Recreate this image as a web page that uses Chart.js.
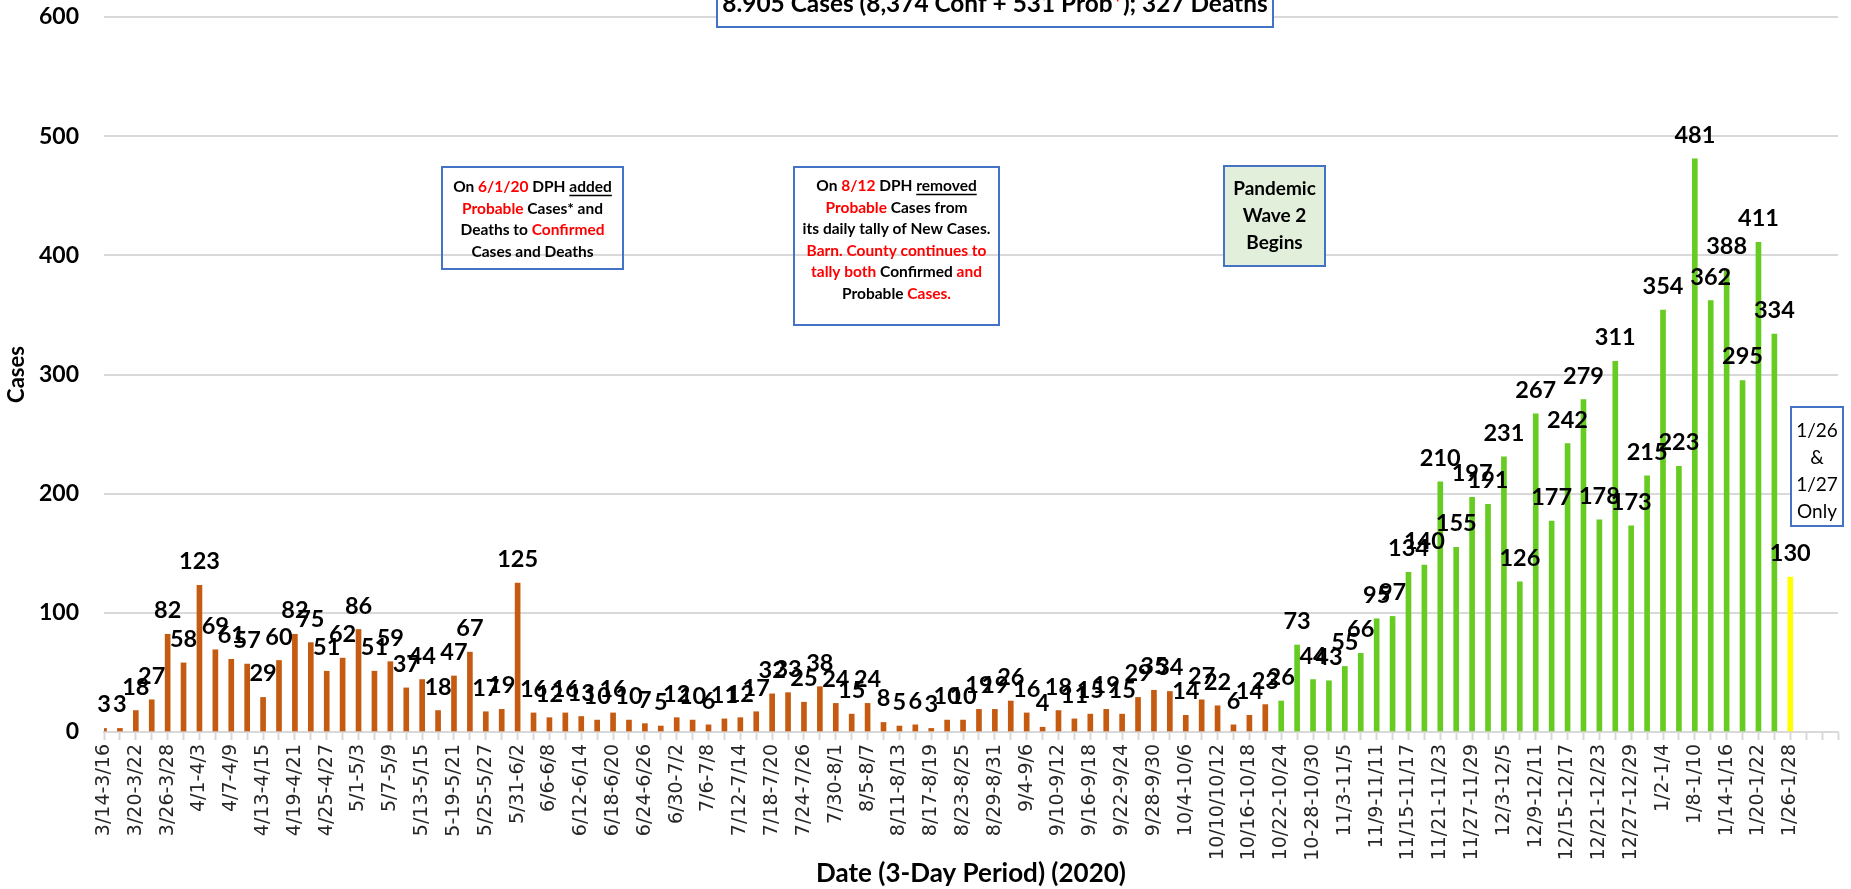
<!DOCTYPE html>
<html>
<head>
<meta charset="utf-8">
<script src="https://cdn.jsdelivr.net/npm/chart.js@4.4.1/dist/chart.umd.min.js"></script>
<style>
  html, body { margin: 0; padding: 0; background: #fff; }
  #wrap { width: 1851px; height: 889px; }
</style>
</head>
<body>
<div id="wrap"><canvas id="casesChart" width="1851" height="889"></canvas></div>
<script>
// tick labels, one for every second 3-day period
const tickLabels = [
  '3/14-3/16', '3/20-3/22', '3/26-3/28', '4/1-4/3', '4/7-4/9', '4/13-4/15', '4/19-4/21', '4/25-4/27',
  '5/1-5/3', '5/7-5/9', '5/13-5/15', '5-19-5/21', '5/25-5/27', '5/31-6/2', '6/6-6/8', '6/12-6/14',
  '6/18-6/20', '6/24-6/26', '6/30-7/2', '7/6-7/8', '7/12-7/14', '7/18-7/20', '7/24-7/26', '7/30-8/1',
  '8/5-8/7', '8/11-8/13', '8/17-8/19', '8/23-8/25', '8/29-8/31', '9/4-9/6', '9/10-9/12', '9/16-9/18',
  '9/22-9/24', '9/28-9/30', '10/4-10/6', '10/10/10/12', '10/16-10/18', '10/22-10/24', '10-28-10/30', '11/3-11/5',
  '11/9-11/11', '11/15-11/17', '11/21-11/23', '11/27-11/29', '12/3-12/5', '12/9-12/11', '12/15-12/17', '12/21-12/23',
  '12/27-12/29', '1/2-1/4', '1/8-1/10', '1/14-1/16', '1/20-1/22', '1/26-1/28'
];

// first wave (orange)
const wave1Cases = [
  3, 3, 18, 27, 82, 58, 123, 69, 61, 57, 29, 60, 82, 75, 51, 62, 86, 51, 59, 37,
  44, 18, 47, 67, 17, 19, 125, 16, 12, 16, 13, 10, 16, 10, 7, 5, 12, 10, 6, 11,
  12, 17, 32, 33, 25, 38, 24, 15, 24, 8, 5, 6, 3, 10, 10, 19, 19, 26, 16, 4,
  18, 11, 15, 19, 15, 29, 35, 34, 14, 27, 22, 6, 14, 23
];
// second wave (green)
const wave2Cases = [
  26, 73, 44, 43, 55, 66, 95, 97, 134, 140, 210, 155, 197, 191, 231, 126,
  267, 177, 242, 279, 178, 311, 173, 215, 354, 223, 481, 362, 388, 295, 411, 334
];
// 1/26 & 1/27 only (yellow)
const partialCases = [130];

const yTicks = [0, 100, 200, 300, 400, 500, 600];
const emptySlots = 3;

const values = [...wave1Cases, ...wave2Cases, ...partialCases];
const categories = [];
for (let i = 0; i < values.length + emptySlots; i++) {
  categories.push(i % 2 === 0 && i / 2 < tickLabels.length ? tickLabels[i / 2] : '');
}
const barColors = values.map((v, i) =>
  i < wave1Cases.length ? '#C55A11'
    : i < wave1Cases.length + wave2Cases.length ? '#66CC22'
    : '#FFFF00');

const BLUE = '#4472C4';
const RED = '#FF0000';

function richLine(ctx, segs, cx, y, size) {
  const widths = segs.map(s => ctx.measureText(s[0]).width);
  const total = widths.reduce((a, b) => a + b, 0);
  let x = cx - total / 2;
  segs.forEach((s, k) => {
    ctx.fillStyle = s[1] || '#000';
    ctx.fillText(s[0], x, y);
    if (s[2]) ctx.fillRect(x, y + size * 0.5, widths[k], 1.5);
    x += widths[k];
  });
}

const notes = [
  {
    box: [442, 167, 623, 269], fill: null, font: 'bold 15.5px Lato', size: 15.5, top: 187, step: 21.7,
    lines: [
      [['On '], ['6/1/20', RED], [' DPH '], ['added', null, true]],
      [['Probable', RED], [' Cases* and']],
      [['Deaths to '], ['Confirmed', RED]],
      [['Cases and Deaths']]
    ]
  },
  {
    box: [794, 167, 999, 325], fill: null, font: 'bold 15.5px Lato', size: 15.5, top: 186, step: 21.6,
    lines: [
      [['On '], ['8/12', RED], [' DPH '], ['removed', null, true]],
      [['Probable', RED], [' Cases from']],
      [['its daily tally of New Cases.']],
      [['Barn. County continues to', RED]],
      [['tally both', RED], [' Confirmed '], ['and', RED]],
      [['Probable '], ['Cases.', RED]]
    ]
  },
  {
    box: [1224, 166, 1325, 266], fill: '#E2EFDA', font: 'bold 19px Lato', size: 19, top: 189, step: 27,
    lines: [[['Pandemic']], [['Wave 2']], [['Begins']]]
  },
  {
    box: [1791, 407, 1843, 526], fill: '#FFFFFF', font: '19px Lato', size: 19, top: 431, step: 27,
    lines: [[['1/26']], [['&']], [['1/27']], [['Only']]]
  }
];

const valueLabels = {
  id: 'valueLabels',
  afterDatasetsDraw(chart) {
    const ctx = chart.ctx;
    const meta = chart.getDatasetMeta(0);
    ctx.save();
    ctx.font = 'bold 23.5px Lato';
    ctx.fillStyle = '#000';
    ctx.textAlign = 'center';
    ctx.textBaseline = 'alphabetic';
    meta.data.forEach((bar, i) => {
      ctx.fillText(String(values[i]), bar.x, bar.y - 16);
    });
    ctx.restore();
  }
};

const annotations = {
  id: 'annotations',
  afterDraw(chart) {
    const ctx = chart.ctx;
    ctx.save();
    ctx.textAlign = 'left';
    ctx.textBaseline = 'middle';
    notes.forEach(n => {
      const [x1, y1, x2, y2] = n.box;
      if (n.fill) {
        ctx.fillStyle = n.fill;
        ctx.fillRect(x1, y1, x2 - x1, y2 - y1);
      }
      ctx.strokeStyle = BLUE;
      ctx.lineWidth = 2;
      ctx.strokeRect(x1, y1, x2 - x1, y2 - y1);
      ctx.font = n.font;
      n.lines.forEach((segs, k) => richLine(ctx, segs, (x1 + x2) / 2, n.top + k * n.step, n.size));
    });

    // headline box, cut off at the top of the picture
    ctx.fillStyle = '#fff';
    ctx.fillRect(717, -10, 556, 37);
    ctx.strokeStyle = BLUE;
    ctx.lineWidth = 2;
    ctx.strokeRect(717, -10, 556, 37);
    const head = [['8.905 Cases (8,374 Conf + 531 Prob'], ['*', RED], ['); 327 Deaths']];
    ctx.font = 'bold 24px Lato';
    const w = head.reduce((a, s) => a + ctx.measureText(s[0]).width, 0);
    const size = 24 * 545 / w;
    ctx.font = 'bold ' + size.toFixed(1) + 'px Lato';
    ctx.textBaseline = 'alphabetic';
    richLine(ctx, head, 995, 12, size);
    ctx.restore();
  }
};

new Chart(document.getElementById('casesChart'), {
  type: 'bar',
  data: {
    labels: categories,
    datasets: [{
      data: values,
      backgroundColor: barColors,
      barThickness: 5
    }]
  },
  options: {
    responsive: false,
    animation: false,
    devicePixelRatio: 1,
    layout: { padding: { top: 17, right: 13, left: 0, bottom: 0 } },
    plugins: { legend: { display: false }, tooltip: { enabled: false } },
    scales: {
      x: {
        offset: false,
        grid: {
          offset: false,
          drawOnChartArea: false,
          drawTicks: true,
          tickLength: 8,
          tickColor: '#D9D9D9',
          tickWidth: 2
        },
        border: { display: true, color: '#D9D9D9', width: 2 },
        ticks: {
          autoSkip: false,
          maxRotation: 90,
          minRotation: 90,
          padding: 4,
          color: '#262626',
          font: { family: 'DejaVu Sans', size: 19 }
        },
        title: {
          display: true,
          text: 'Date (3-Day Period) (2020)',
          color: '#000',
          font: { family: 'Lato', size: 26, weight: 'bold' },
          padding: { top: 0, bottom: 0 }
        },
        afterFit: s => {
          s.height = 157;
          s.paddingLeft = 0;
          s.paddingRight = 0;
        }
      },
      y: {
        min: 0,
        max: 600,
        afterBuildTicks: s => { s.ticks = yTicks.map(v => ({ value: v })); },
        grid: { color: '#D9D9D9', lineWidth: 2, drawTicks: true, tickLength: 22, tickColor: 'rgba(0,0,0,0)' },
        border: { display: false },
        ticks: {
          padding: 3,
          color: '#000',
          font: { family: 'Lato', size: 23, weight: 'bold' }
        },
        title: {
          display: true,
          text: 'Cases',
          color: '#000',
          font: { family: 'Lato', size: 22, weight: 'bold' },
          padding: { top: 4, bottom: 0 }
        },
        afterFit: s => { s.width = 104; }
      }
    }
  },
  plugins: [valueLabels, annotations]
});
</script>
</body>
</html>
